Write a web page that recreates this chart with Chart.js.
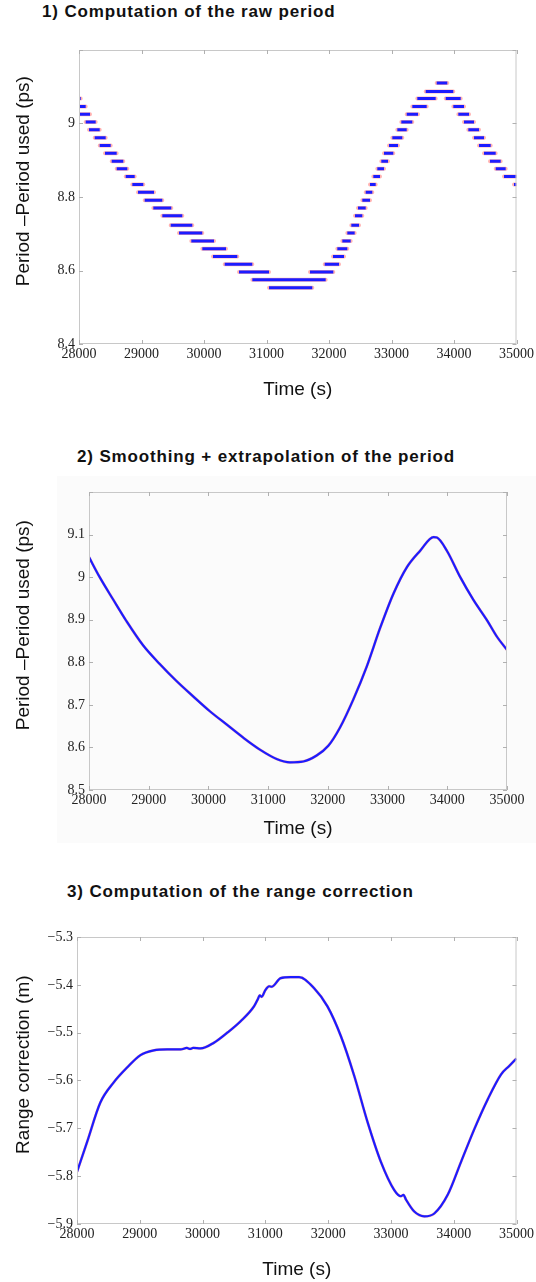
<!DOCTYPE html>
<html>
<head>
<meta charset="utf-8">
<script src="https://cdn.jsdelivr.net/npm/chart.js@4.4.1/dist/chart.umd.min.js"></script>
<style>
  body { margin: 0; background: #fff; width: 536px; height: 1282px; position: relative; overflow: hidden; font-family: "Liberation Sans", Arial, sans-serif; }
  .ttl { position: absolute; font-weight: bold; font-size: 17px; letter-spacing: 0.85px; color: #111; white-space: nowrap; }
  .box { position: absolute; left: 0; width: 536px; }
  .stipple { position: absolute; left: 57px; top: 476px; width: 479px; height: 367px; background: #fbfbfb; }
</style>
</head>
<body>

<div class="ttl" style="left:42px; top:2px;">1) Computation of the raw period</div>
<div class="box" style="top:30px; height:385px;"><canvas id="rawChart"></canvas></div>

<div class="stipple"></div>
<div class="ttl" style="left:77px; top:447px;">2) Smoothing + extrapolation of the period</div>
<div class="box" style="top:475px; height:370px;"><canvas id="smoothChart"></canvas></div>

<div class="ttl" style="left:67px; top:882px;">3) Computation of the range correction</div>
<div class="box" style="top:910px; height:372px;"><canvas id="rangeChart"></canvas></div>

<script>
// 1) raw period: quantised steps (level, start time, end time)
const rawLevels = [9.068, 9.046, 9.025, 9.004, 8.983, 8.961, 8.940, 8.919, 8.897, 8.877,
  8.856, 8.834, 8.813, 8.791, 8.770, 8.749, 8.723, 8.702, 8.680, 8.659,
  8.638, 8.617, 8.596, 8.575, 8.553,
  8.596, 8.617, 8.638, 8.659, 8.680, 8.702, 8.723, 8.749, 8.770, 8.791,
  8.813, 8.834, 8.856, 8.877, 8.897, 8.919, 8.940, 8.961, 8.983, 9.004,
  9.025, 9.046, 9.068, 9.087, 9.110,
  9.068, 9.046, 9.025, 9.004, 8.983, 8.961, 8.940, 8.919, 8.897, 8.877, 8.856, 8.834];
const rawStart = [28000, 28011, 28016, 28107, 28160, 28251, 28331, 28416, 28523, 28603,
  28747, 28853, 28944, 29051, 29189, 29333, 29467, 29600, 29797, 29973,
  30144, 30331, 30560, 30773, 31040,
  31696, 31931, 32064, 32133, 32213, 32293, 32357, 32416, 32464, 32533,
  32587, 32656, 32709, 32773, 32837, 32880, 32960, 33013, 33093, 33157,
  33243, 33333, 33413, 33547, 33723,
  33867, 33989, 34069, 34160, 34229, 34320, 34400, 34480, 34576, 34667, 34800, 34960];
const rawEnd = [28027, 28107, 28176, 28267, 28331, 28427, 28507, 28603, 28709, 28773,
  28891, 29029, 29200, 29333, 29477, 29653, 29813, 29973, 30160, 30352,
  30533, 30773, 31040, 31947, 31733,
  32069, 32160, 32240, 32293, 32347, 32411, 32480, 32533, 32587, 32656,
  32693, 32747, 32816, 32880, 32944, 33029, 33104, 33173, 33243, 33333,
  33424, 33563, 33707, 33989, 33893,
  34107, 34160, 34240, 34320, 34400, 34480, 34587, 34667, 34747, 34827, 35000, 35000];

// 2) smoothed + extrapolated period
const smoothTime = [28000, 28179, 28402, 28626, 28905, 29185, 29465, 29744, 30024, 30303,
  30583, 30862, 31142, 31365, 31589, 31812, 32008, 32204, 32427, 32651,
  32874, 33098, 33322, 33546, 33770, 33826, 33993, 34217, 34440, 34664, 34832, 35000];
const smoothValue = [9.047, 9.000, 8.948, 8.897, 8.840, 8.796, 8.756, 8.720, 8.685, 8.654,
  8.623, 8.595, 8.573, 8.565, 8.567, 8.581, 8.604, 8.647, 8.713, 8.790,
  8.880, 8.961, 9.023, 9.062, 9.094, 9.093, 9.062, 9.000, 8.946, 8.899, 8.860, 8.829];

// 3) range correction
const rangeTime = [28000, 28160, 28372, 28585, 28798, 29011, 29223, 29436, 29650, 29750,
  29800, 29850, 29968, 30181, 30394, 30606, 30819, 30880, 30910,
  30940, 31000, 31060, 31100, 31245, 31400, 31537, 31777, 31989, 32202,
  32415, 32628, 32840, 33053, 33160, 33200, 33240, 33372, 33532, 33691,
  33904, 34117, 34330, 34543, 34755, 34880, 35000];
const rangeValue = [-5.791, -5.729, -5.646, -5.604, -5.573, -5.547, -5.537, -5.535, -5.535, -5.532,
  -5.534, -5.532, -5.533, -5.521, -5.500, -5.476, -5.445, -5.430, -5.422,
  -5.425, -5.411, -5.403, -5.404, -5.386, -5.384, -5.384, -5.407, -5.445, -5.507,
  -5.590, -5.687, -5.770, -5.829, -5.842, -5.839, -5.849, -5.874, -5.884, -5.878,
  -5.839, -5.770, -5.701, -5.639, -5.587, -5.570, -5.554];

const BLUE = '#1c1cff';
const RED = 'rgba(255,0,0,0.3)';
const tickFont = { family: "'Liberation Serif', 'Times New Roman', serif", size: 14 };
const titleFont = { family: "'Liberation Sans', Arial, sans-serif", size: 19 };
const lift = '\u00a0\u00a0\u00a0\u00a0\u00a0\u00a0';

// matlab style box with inward ticks
const matlabBox = {
  id: 'matlabBox',
  afterDatasetsDraw(chart) {
    const { ctx, chartArea: a, scales } = chart;
    ctx.save();
    ctx.strokeStyle = '#c8c8c8';
    ctx.lineWidth = 1;
    ctx.strokeRect(a.left + 0.5, a.top + 0.5, a.right - a.left - 1, a.bottom - a.top - 1);
    ctx.strokeStyle = '#b0b0b0';
    ctx.beginPath();
    scales.x.ticks.forEach(t => {
      const px = Math.round(scales.x.getPixelForValue(t.value)) + 0.5;
      ctx.moveTo(px, a.bottom); ctx.lineTo(px, a.bottom - 4);
      ctx.moveTo(px, a.top); ctx.lineTo(px, a.top + 4);
    });
    scales.y.ticks.forEach(t => {
      const py = Math.round(scales.y.getPixelForValue(t.value)) + 0.5;
      ctx.moveTo(a.left, py); ctx.lineTo(a.left + 4, py);
      ctx.moveTo(a.right, py); ctx.lineTo(a.right - 4, py);
    });
    ctx.stroke();
    ctx.restore();
  }
};

function fmt(v) {
  const s = String(+v.toFixed(2));
  return s.replace('-', '\u2212');
}

function makePanel(id, datasets, p) {
  new Chart(document.getElementById(id), {
    type: 'line',
    data: { datasets: datasets },
    options: {
      responsive: true,
      maintainAspectRatio: false,
      animation: false,
      layout: { padding: { top: p.padTop, right: p.padRight, left: 0, bottom: 0 } },
      plugins: { legend: { display: false }, tooltip: { enabled: false } },
      elements: { point: { radius: 0 } },
      scales: {
        x: {
          type: 'linear', min: 28000, max: 35000,
          grid: { display: false, drawTicks: false, tickLength: 0 },
          border: { display: false },
          ticks: { stepSize: 1000, autoSkip: false, maxRotation: 0, padding: 2, color: '#222', font: tickFont,
                   callback: v => String(v) },
          title: { display: true, text: 'Time (s)', color: '#111', font: titleFont, padding: { top: 0, bottom: p.xTitlePad } },
          afterFit: s => { s.height = p.xHeight; }
        },
        y: {
          min: p.yMin, max: p.yMax,
          grid: { display: false, drawTicks: false, tickLength: 0 },
          border: { display: false },
          ticks: { stepSize: p.yStep, padding: 4, color: '#222', font: tickFont,
                   callback: v => (p.hideTop && Math.abs(v - p.yMax) < 1e-6) ? '' : fmt(v) },
          title: { display: true, text: lift + p.yTitle, color: '#111', font: titleFont, padding: { top: 12, bottom: 0 } },
          afterFit: s => { s.width = p.yWidth; }
        }
      }
    },
    plugins: [matlabBox]
  });
}

// panel 1 : build step segments with gaps
const rawPts = [];
for (let i = 0; i < rawLevels.length; i++) {
  rawPts.push({ x: rawStart[i], y: rawLevels[i] });
  rawPts.push({ x: rawEnd[i], y: rawLevels[i] });
  rawPts.push({ x: rawEnd[i], y: null });
}
makePanel('rawChart', [
  { data: rawPts, borderColor: BLUE, borderWidth: 3, spanGaps: false, borderCapStyle: 'butt', order: 0 },
  { data: rawPts, borderColor: RED, borderWidth: 4, spanGaps: false, borderCapStyle: 'round', order: 1 }
], { padTop: 20, padRight: 19, yWidth: 79, xHeight: 71, xTitlePad: 14,
     yMin: 8.4, yMax: 9.2, yStep: 0.2, hideTop: true, yTitle: 'Period \u2013Period used (ps)' });

// panel 2
const smoothPts = smoothTime.map((t, i) => ({ x: t, y: smoothValue[i] }));
makePanel('smoothChart', [
  { data: smoothPts, borderColor: BLUE, borderWidth: 2.2, cubicInterpolationMode: 'monotone', order: 0 },
  { data: smoothPts, borderColor: RED, borderWidth: 2.8, cubicInterpolationMode: 'monotone', order: 1 }
], { padTop: 17, padRight: 29, yWidth: 89, xHeight: 55, xTitlePad: 5,
     yMin: 8.5, yMax: 9.2, yStep: 0.1, hideTop: true, yTitle: 'Period \u2013Period used (ps)' });

// panel 3
const rangePts = rangeTime.map((t, i) => ({ x: t, y: rangeValue[i] }));
makePanel('rangeChart', [
  { data: rangePts, borderColor: BLUE, borderWidth: 2.2, cubicInterpolationMode: 'monotone', order: 0 },
  { data: rangePts, borderColor: RED, borderWidth: 2.8, cubicInterpolationMode: 'monotone', order: 1 }
], { padTop: 27, padRight: 19, yWidth: 77, xHeight: 58, xTitlePad: 1,
     yMin: -5.9, yMax: -5.3, yStep: 0.1, hideTop: false, yTitle: 'Range correction (m)' });
</script>
</body>
</html>
